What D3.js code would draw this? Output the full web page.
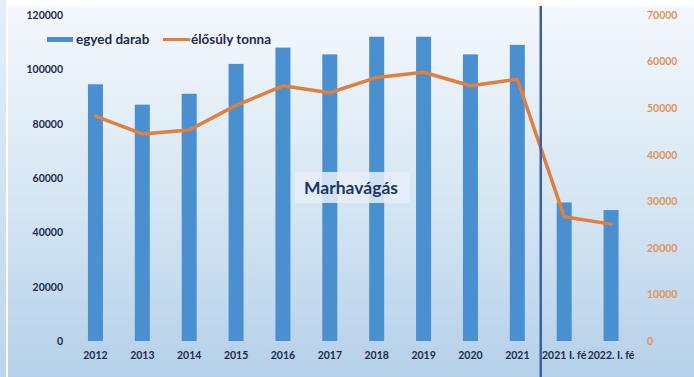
<!DOCTYPE html>
<html>
<head>
<meta charset="utf-8">
<script src="https://cdn.jsdelivr.net/npm/d3@7"></script>
<style>
  html, body { margin: 0; padding: 0; background: #ffffff; }
  svg { display: block; }
  text { font-family: Lato, "Open Sans", sans-serif; font-weight: 700; }
</style>
</head>
<body>
<svg id="chart" width="694" height="377"></svg>
<script>
// ---- data ----
const categories = ["2012", "2013", "2014", "2015", "2016", "2017", "2018", "2019", "2020", "2021", "2021 I. fé", "2022. I. fé"];
const egyedDarab = [94500, 87000, 91000, 102000, 108000, 105500, 112000, 112000, 105500, 109000, 51000, 48200];
const elosulyTonna = [48300, 44450, 45300, 50600, 54800, 53300, 56600, 57700, 54800, 56200, 26700, 25100];
const leftTicks = [0, 20000, 40000, 60000, 80000, 100000, 120000];
const rightTicks = [0, 10000, 20000, 30000, 40000, 50000, 60000, 70000];
const seriesNames = ["egyed darab", "élősúly tonna"];
const title = "Marhavágás";

// ---- drawing ----
const svg = d3.select("#chart");
const W = 694, H = 377;

const defs = svg.append("defs");
const bg = defs.append("linearGradient").attr("id", "bg").attr("x1", 0).attr("y1", 0).attr("x2", 0).attr("y2", 1);
bg.append("stop").attr("offset", "0%").attr("stop-color", "#f4f8fc");
bg.append("stop").attr("offset", "50%").attr("stop-color", "#d7e7f4");
bg.append("stop").attr("offset", "100%").attr("stop-color", "#b5d0e9");
const side = defs.append("linearGradient").attr("id", "side").attr("x1", 0).attr("y1", 0).attr("x2", 0).attr("y2", 1);
side.append("stop").attr("offset", "0%").attr("stop-color", "#e6eff8");
side.append("stop").attr("offset", "100%").attr("stop-color", "#bcd5ec");

svg.append("rect").attr("x", 0).attr("y", 0).attr("width", W).attr("height", H).attr("fill", "#ffffff");
svg.append("rect").attr("x", 0).attr("y", 0).attr("width", 6).attr("height", H).attr("fill", "url(#side)");
svg.append("rect").attr("x", 8).attr("y", 6).attr("width", W - 8).attr("height", H - 6).attr("fill", "url(#bg)");

const x = d3.scaleBand().domain(categories).range([72, 634.5]).paddingInner(0.68).paddingOuter(0.34);
const y = d3.scaleLinear().domain([0, 120000]).range([341, 15]);
const y2 = d3.scaleLinear().domain([0, 70000]).range([341, 15]);

// bars
svg.append("g").selectAll("rect").data(categories).join("rect")
  .attr("x", d => x(d))
  .attr("width", x.bandwidth())
  .attr("y", (d, i) => y(egyedDarab[i]))
  .attr("height", (d, i) => y(0) - y(egyedDarab[i]))
  .attr("fill", "#4a8fcf");

// line
const line = d3.line()
  .x((d, i) => x(categories[i]) + x.bandwidth() / 2)
  .y(d => y2(d));
svg.append("path").datum(elosulyTonna)
  .attr("d", line)
  .attr("fill", "none")
  .attr("stroke", "#e07f3e")
  .attr("stroke-width", 3.5)
  .attr("stroke-linejoin", "round")
  .attr("stroke-linecap", "round");

// separator line
const sepX = (x(categories[9]) + x.bandwidth() + x(categories[10])) / 2;
svg.append("line")
  .attr("x1", sepX).attr("x2", sepX).attr("y1", 6).attr("y2", H)
  .attr("stroke", "#3d5ea8").attr("stroke-width", 2.5);

// axes
const fmt = d3.format("d");
const gl = svg.append("g").attr("transform", "translate(63,0)")
  .call(d3.axisLeft(y).tickValues(leftTicks).tickFormat(fmt).tickSize(0).tickPadding(0));
gl.select(".domain").remove();
gl.selectAll("text").attr("fill", "#1f2b4a").style("font-size", "10.5px").style("font-family", "Lato, sans-serif");

const gr = svg.append("g").attr("transform", "translate(647,0)")
  .call(d3.axisRight(y2).tickValues(rightTicks).tickFormat(fmt).tickSize(0).tickPadding(0));
gr.select(".domain").remove();
gr.selectAll("text").attr("fill", "#e3935c").style("font-size", "10.5px").style("font-family", "Lato, sans-serif");

const gb = svg.append("g").attr("transform", "translate(0,341)")
  .call(d3.axisBottom(x).tickSize(0).tickPadding(11));
gb.select(".domain").remove();
gb.selectAll("text").attr("fill", "#1f2b4a").style("font-size", "10.5px").style("font-family", "Lato, sans-serif");

// legend
const lg = svg.append("g");
lg.append("rect").attr("x", 47).attr("y", 37).attr("width", 26).attr("height", 5).attr("fill", "#4a8fcf");
lg.append("text").attr("x", 76).attr("y", 39.5).attr("dy", "0.35em").text(seriesNames[0])
  .attr("fill", "#1f2b4a").style("font-size", "13.5px");
lg.append("line").attr("x1", 163).attr("x2", 190).attr("y1", 39.5).attr("y2", 39.5)
  .attr("stroke", "#e07f3e").attr("stroke-width", 3);
lg.append("text").attr("x", 191).attr("y", 39.5).attr("dy", "0.35em").text(seriesNames[1])
  .attr("fill", "#1f2b4a").style("font-size", "13.5px");

// title box
const tb = svg.append("g");
tb.append("rect").attr("x", 295).attr("y", 172).attr("width", 115).attr("height", 31)
  .attr("fill", "#e6eff8").attr("fill-opacity", 0.85);
tb.append("text").attr("x", 351).attr("y", 188).attr("dy", "0.35em").attr("text-anchor", "middle")
  .text(title).attr("fill", "#1f3563").style("font-size", "17.5px");
</script>
</body>
</html>
